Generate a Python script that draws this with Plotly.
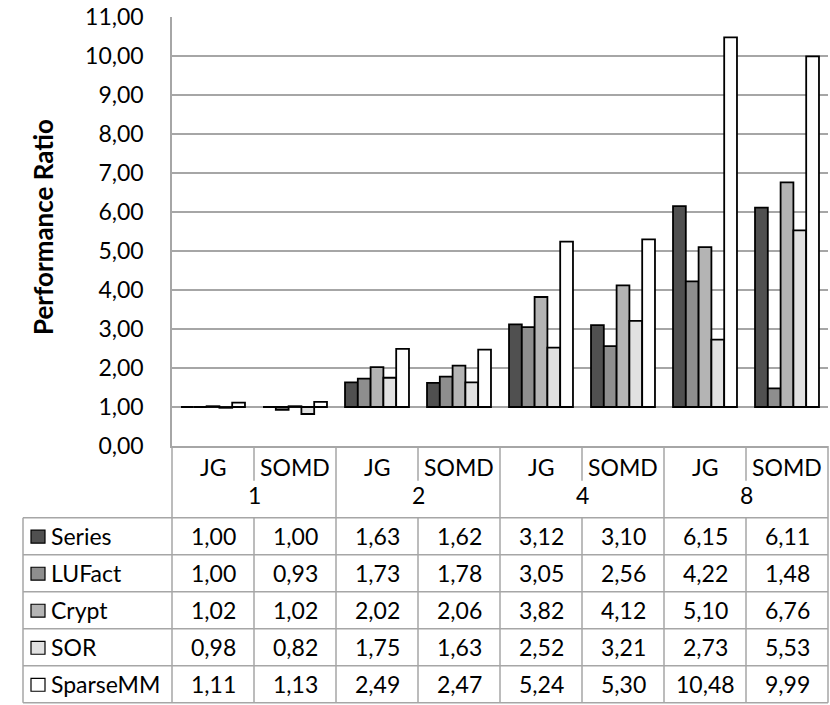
import plotly.graph_objects as go

categories = ["JG|1", "SOMD|1", "JG|2", "SOMD|2", "JG|4", "SOMD|4", "JG|8", "SOMD|8"]
impl_labels = ["JG", "SOMD", "JG", "SOMD", "JG", "SOMD", "JG", "SOMD"]
group_labels = ["1", "2", "4", "8"]
series_names = ["Series", "LUFact", "Crypt", "SOR", "SparseMM"]
series_vals = [1.00, 1.00, 1.63, 1.62, 3.12, 3.10, 6.15, 6.11]
lufact_vals = [1.00, 0.93, 1.73, 1.78, 3.05, 2.56, 4.22, 1.48]
crypt_vals = [1.02, 1.02, 2.02, 2.06, 3.82, 4.12, 5.10, 6.76]
sor_vals = [0.98, 0.82, 1.75, 1.63, 2.52, 3.21, 2.73, 5.53]
sparsemm_vals = [1.11, 1.13, 2.49, 2.47, 5.24, 5.30, 10.48, 9.99]
all_vals = [series_vals, lufact_vals, crypt_vals, sor_vals, sparsemm_vals]
colors = ["#505050", "#8e8e8e", "#b4b4b4", "#e1e1e1", "#ffffff"]
base_value = 1.0

FONT = "Lato"
FS = 23
W, H = 830, 705
ML, MR, MT, MB = 172, 2, 15, 259
plot_w = W - ML - MR
plot_h = H - MT - MB
LINE = "#a6a6a6"

def py(p):
    return (H - MB - p) / plot_h

def px(p):
    return (p - ML) / plot_w

fig = go.Figure()
for name, vals, col in zip(series_names, all_vals, colors):
    fig.add_trace(go.Bar(
        x=categories, y=[v - base_value for v in vals], base=base_value,
        name=name, marker=dict(color=col, line=dict(color="#000000", width=1.8)),
        showlegend=False))

shapes = []
annotations = []
n = len(categories)
row_top = 518
row_h = 37.2
nrows = len(series_names)
tbl_bottom = row_top + row_h * nrows
left_x = px(23)

def hline(y, x0, x1):
    shapes.append(dict(type="line", xref="paper", yref="paper", x0=x0, x1=x1,
                       y0=py(y), y1=py(y), line=dict(color=LINE, width=1.5)))

def vline(x, y0, y1):
    shapes.append(dict(type="line", xref="paper", yref="paper", x0=x, x1=x,
                       y0=py(y0), y1=py(y1), line=dict(color=LINE, width=1.5)))

def text(x, y, s, anchor="center", size=FS):
    annotations.append(dict(x=x, y=py(y), xref="paper", yref="paper", text=s,
                            showarrow=False, xanchor=anchor, yanchor="middle",
                            font=dict(size=size, color="#000")))

# horizontal table lines
for r in range(nrows + 1):
    hline(row_top + r * row_h, left_x, 1)
# vertical lines
vline(left_x, row_top, tbl_bottom)
vline(0, H - MB, tbl_bottom)
vline(1, H - MB, tbl_bottom)
for i in range(1, n):
    if i % 2 == 0:
        vline(i / n, H - MB, tbl_bottom)
    else:
        vline(i / n, H - MB, 481)
        vline(i / n, row_top, tbl_bottom)

# header texts
for i, lab in enumerate(impl_labels):
    text((i + 0.5) / n, 467, lab)
for g, lab in enumerate(group_labels):
    text((2 * g + 1) / n, 495, lab)

# rows
for r, (name, vals, col) in enumerate(zip(series_names, all_vals, colors)):
    yc = row_top + (r + 0.5) * row_h
    shapes.append(dict(type="rect", xref="paper", yref="paper",
                       x0=px(31), x1=px(45), y0=py(yc - 6), y1=py(yc + 7),
                       fillcolor=col, line=dict(color="#000", width=1.2)))
    text(px(49), yc, name, anchor="left")
    for i, v in enumerate(vals):
        text((i + 0.5) / n, yc, f"{v:.2f}".replace(".", ","))

annotations.append(dict(x=px(43), y=py(226), xref="paper", yref="paper",
                        text="<b>Performance Ratio</b>", textangle=-90, showarrow=False,
                        xanchor="center", yanchor="middle",
                        font=dict(size=26, color="#000")))

fig.update_layout(
    width=W, height=H,
    margin=dict(l=ML, r=MR, t=MT, b=MB),
    paper_bgcolor="white", plot_bgcolor="white",
    separators=",.",
    font=dict(family=FONT, size=FS, color="#000"),
    barmode="group", bargap=0.22, bargroupgap=0,
    shapes=shapes, annotations=annotations,
    xaxis=dict(showticklabels=False, showgrid=False, zeroline=False,
               showline=True, linecolor=LINE, linewidth=1.5, mirror=False),
    yaxis=dict(range=[0, 11], dtick=1, tickformat=".2f", showgrid=True,
               gridcolor=LINE, gridwidth=1.5, zeroline=False,
               showline=True, linecolor=LINE, linewidth=1.5,
               ticks="", ticklabelstandoff=22,
               tickfont=dict(size=FS, color="#000")),
)

fig.write_html("out.html", config={"displayModeBar": False},
               post_script="document.body.style.margin='0';")
